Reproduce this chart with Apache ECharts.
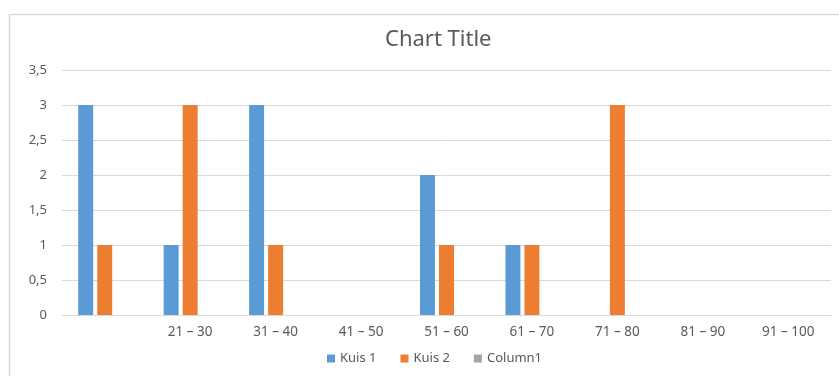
<!DOCTYPE html>
<html>
<head>
<meta charset="utf-8">
<script src="https://cdn.jsdelivr.net/npm/echarts@6/dist/echarts.min.js"></script>
<style>
  html, body { margin: 0; padding: 0; background: #fff; }
  #chart { width: 839px; height: 376px; }
</style>
</head>
<body>
<div id="chart"></div>
<script>
// Score ranges (first range has no label)
const categories = ['', '21 – 30', '31 – 40', '41 – 50', '51 – 60', '61 – 70', '71 – 80', '81 – 90', '91 – 100'];
// Number of students per range
const kuis1 = [3, 1, 3, 0, 2, 1, 0, 0, 0];
const kuis2 = [1, 3, 1, 0, 1, 1, 3, 0, 0];
const column1 = [null, null, null, null, null, null, null, null, null];
const seriesNames = ['Kuis 1', 'Kuis 2', 'Column1'];
const colors = ['#5b9bd5', '#ed7d31', '#a5a5a5'];

const font = 'Noto Sans';
const chart = echarts.init(document.getElementById('chart'), null, { renderer: 'canvas' });

const barCommon = {
  type: 'bar',
  barGap: '27%',
  barCategoryGap: '38%'
};

chart.setOption({
  animation: false,
  color: colors,
  textStyle: { fontFamily: font },
  title: {
    text: 'Chart Title',
    left: 380,
    top: 24,
    textStyle: { fontFamily: font, fontSize: 22, fontWeight: 'normal', color: '#595959' }
  },
  graphic: [{
    type: 'rect',
    shape: { x: 9.5, y: 14.5, width: 840, height: 370 },
    style: { fill: 'none', stroke: '#d9d9d9', lineWidth: 1.5 },
    silent: true
  }],
  legend: {
    bottom: 6,
    left: 322,
    itemWidth: 8,
    itemHeight: 8,
    itemGap: 24,
    icon: 'rect',
    textStyle: { fontFamily: font, fontSize: 13, color: '#595959' },
    data: seriesNames
  },
  grid: { left: 62, right: 8, top: 70, bottom: 61 },
  xAxis: {
    type: 'category',
    data: categories,
    axisLine: { lineStyle: { color: '#d9d9d9' } },
    axisTick: { show: false },
    axisLabel: { fontFamily: font, fontSize: 13.5, color: '#595959', margin: 10, interval: 0 }
  },
  yAxis: {
    type: 'value',
    min: 0,
    max: 3.5,
    interval: 0.5,
    axisLine: { show: false },
    axisTick: { show: false },
    splitLine: { lineStyle: { color: '#d9d9d9' } },
    axisLabel: {
      fontFamily: font, fontSize: 13, color: '#595959', margin: 15,
      formatter: v => String(v).replace('.', ',')
    }
  },
  series: [
    Object.assign({ name: seriesNames[0], data: kuis1 }, barCommon),
    Object.assign({ name: seriesNames[1], data: kuis2 }, barCommon),
    Object.assign({ name: seriesNames[2], data: column1 }, barCommon)
  ]
});
</script>
</body>
</html>
